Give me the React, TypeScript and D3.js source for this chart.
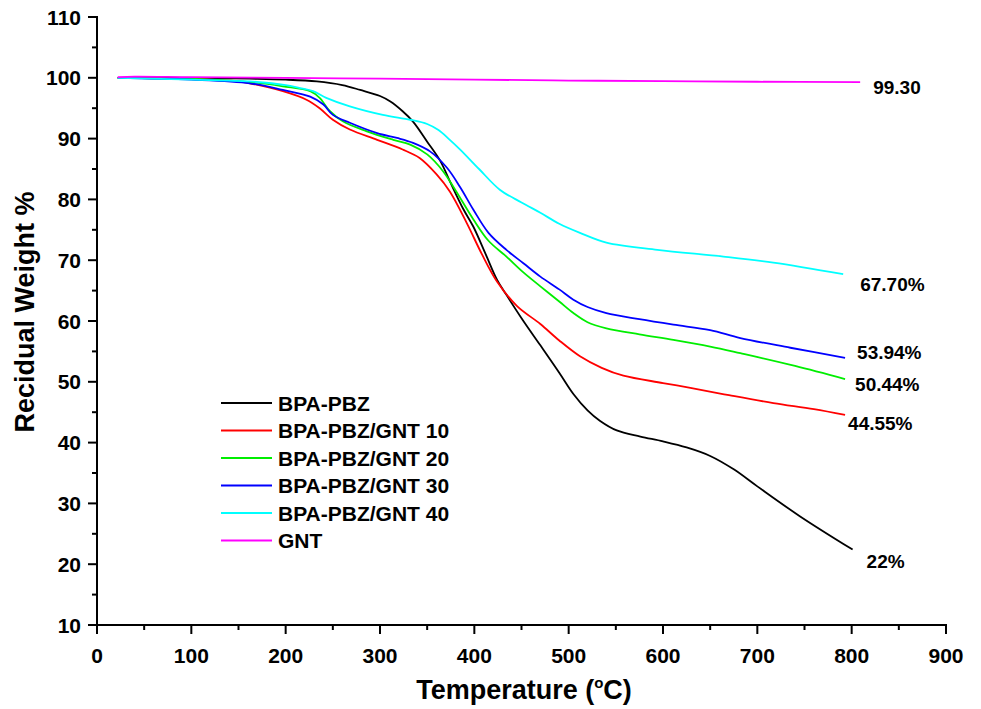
import React from "react";
import * as d3 from "d3";

const seriesNames = ["BPA-PBZ", "BPA-PBZ/GNT 10", "BPA-PBZ/GNT 20", "BPA-PBZ/GNT 30", "BPA-PBZ/GNT 40", "GNT"];
const seriesColors = ["#000000", "#ff0000", "#00ee00", "#0000ff", "#00ffff", "#ff00ff"];
const endLabels = ["22%", "44.55%", "50.44%", "53.94%", "67.70%", "99.30"];

const bpaPbz: [number, number][] = [
  [22, 100], [100, 100], [162, 99.85], [200, 99.7], [233, 99.4], [260, 98.8], [279, 98.0], [300, 97.0],
  [311, 96.1], [324, 94.5], [335, 92.8], [350, 89.5], [364, 86.3], [374, 83.0], [388, 78.5], [399, 75.5],
  [412, 71.0], [424, 66.8], [434, 64.3], [452, 60.0], [470, 56.0], [490, 51.5], [505, 48.0], [520, 45.3],
  [533, 43.6], [551, 42.0], [576, 41.0], [600, 40.2], [625, 39.2], [650, 37.8], [675, 35.6], [700, 32.8],
  [745, 27.9], [801, 22.4],
];
const gnt10: [number, number][] = [
  [22, 100], [100, 99.8], [150, 99.4], [162, 99.1], [197, 97.8], [222, 96.4], [236, 95.0], [250, 93.1],
  [268, 91.5], [297, 89.8], [324, 88.2], [342, 86.8], [360, 84.1], [374, 81.3], [392, 76.1], [408, 71.0],
  [424, 66.5], [445, 62.5], [470, 59.5], [490, 56.8], [512, 54.2], [535, 52.3], [558, 51.0], [600, 49.8],
  [629, 49.0], [670, 47.8], [717, 46.5], [760, 45.5], [793, 44.55],
];
const gnt20: [number, number][] = [
  [22, 100], [100, 99.8], [162, 99.3], [197, 98.6], [226, 97.8], [236, 96.7], [247, 94.5], [261, 92.8],
  [286, 91.2], [314, 89.8], [332, 89.0], [350, 87.4], [367, 84.6], [380, 81.5], [399, 76.7], [415, 73.2],
  [434, 70.6], [452, 68.0], [470, 65.7], [490, 63.2], [505, 61.3], [520, 59.8], [540, 58.8], [575, 57.8],
  [611, 56.9], [650, 55.8], [682, 54.7], [740, 52.6], [793, 50.44],
];
const gnt30: [number, number][] = [
  [22, 100], [100, 99.7], [162, 99.1], [197, 98.0], [226, 96.9], [240, 95.6], [250, 93.9], [268, 92.6],
  [297, 90.9], [318, 90.1], [335, 89.3], [353, 87.9], [371, 85.2], [385, 82.0], [399, 78.3], [415, 74.5],
  [434, 71.7], [452, 69.5], [470, 67.3], [490, 65.2], [505, 63.5], [520, 62.3], [540, 61.3], [575, 60.3],
  [611, 59.4], [650, 58.5], [682, 57.2], [735, 55.6], [793, 53.94],
];
const gnt40: [number, number][] = [
  [22, 100], [100, 99.7], [162, 99.4], [200, 98.8], [215, 98.3], [229, 97.8], [243, 96.7], [268, 95.3],
  [303, 93.9], [332, 93.1], [350, 92.4], [362, 91.4], [374, 89.8], [385, 88.2], [405, 85.0], [427, 81.6],
  [450, 79.5], [470, 77.8], [490, 76.0], [512, 74.5], [540, 72.9], [594, 71.7], [664, 70.6], [717, 69.6],
  [791, 67.7],
];
const gnt: [number, number][] = [
  [22, 100.1], [40, 100.2], [100, 100.1], [200, 100.0], [300, 99.85], [400, 99.7], [500, 99.55],
  [600, 99.45], [700, 99.35], [809, 99.3],
];

const allSeries = [bpaPbz, gnt10, gnt20, gnt30, gnt40, gnt];
const xTicks = [0, 100, 200, 300, 400, 500, 600, 700, 800, 900];
const yTicks = [10, 20, 30, 40, 50, 60, 70, 80, 90, 100, 110];

// label offsets (pixels) relative to series end point
const labelOffsets: [number, number][] = [[14, 12], [3, 9], [10, 5], [12, -5], [17, 10], [13, 5]];

const FONT = "'Liberation Sans', Arial, sans-serif";

export default function App() {
  const x = d3.scaleLinear().domain([0, 900]).range([97, 946]);
  const y = d3.scaleLinear().domain([10, 110]).range([625, 17]);
  const line = d3
    .line<[number, number]>()
    .x((d) => x(d[0]))
    .y((d) => y(d[1]))
    .curve(d3.curveCatmullRom.alpha(0.5));

  const xMinor = d3.range(50, 900, 100);
  const yMinor = d3.range(15, 110, 10);

  return (
    <svg
      width={981}
      height={709}
      style={{ position: "absolute", left: 0, top: 0, background: "#fff" }}
      fontFamily={FONT}
    >
      <rect width={981} height={709} fill="#fff" />
      {/* axes */}
      <g stroke="#000" strokeWidth={2} fill="none">
        <line x1={x(0)} x2={x(0)} y1={y(110) - 1} y2={y(10) + 1} />
        <line x1={x(0) - 1} x2={x(900) + 1} y1={y(10)} y2={y(10)} />
        {yTicks.map((t) => (
          <line key={"yt" + t} x1={x(0) - 9} x2={x(0)} y1={y(t)} y2={y(t)} />
        ))}
        {yMinor.map((t) => (
          <line key={"ym" + t} x1={x(0) - 5} x2={x(0)} y1={y(t)} y2={y(t)} />
        ))}
        {xTicks.map((t) => (
          <line key={"xt" + t} x1={x(t)} x2={x(t)} y1={y(10)} y2={y(10) + 9} />
        ))}
        {xMinor.map((t) => (
          <line key={"xm" + t} x1={x(t)} x2={x(t)} y1={y(10)} y2={y(10) + 5} />
        ))}
      </g>
      <g fontWeight="bold" fontSize={21} fill="#000">
        {yTicks.map((t) => (
          <text key={"yl" + t} x={x(0) - 16} y={y(t)} textAnchor="end" dominantBaseline="central">
            {t}
          </text>
        ))}
        {xTicks.map((t) => (
          <text key={"xl" + t} x={x(t)} y={y(10) + 38} textAnchor="middle">
            {t}
          </text>
        ))}
      </g>
      <text x={524} y={699} textAnchor="middle" fontWeight="bold" fontSize={27}>
        Temperature (<tspan dy={-11} fontSize={15}>o</tspan><tspan dy={11}>C)</tspan>
      </text>
      <text
        transform={`translate(34, ${312}) rotate(-90)`}
        textAnchor="middle"
        fontWeight="bold"
        fontSize={27}
      >
        Recidual Weight %
      </text>

      {/* curves */}
      <g fill="none" strokeWidth={1.8}>
        {allSeries.map((s, i) => (
          <path key={"s" + i} d={line(s) || ""} stroke={seriesColors[i]} />
        ))}
      </g>

      {/* end labels */}
      <g fontWeight="bold" fontSize={19} fill="#000">
        {allSeries.map((s, i) => {
          const last = s[s.length - 1];
          return (
            <text
              key={"el" + i}
              x={x(last[0]) + labelOffsets[i][0]}
              y={y(last[1]) + labelOffsets[i][1]}
              dominantBaseline="central"
            >
              {endLabels[i]}
            </text>
          );
        })}
      </g>

      {/* legend */}
      <g>
        {seriesNames.map((n, i) => (
          <g key={"lg" + i} transform={`translate(221, ${403 + i * 27.5})`}>
            <line x1={0} x2={51} y1={0} y2={0} stroke={seriesColors[i]} strokeWidth={2} />
            <text x={57} y={0} dominantBaseline="central" fontWeight="bold" fontSize={21}>
              {n}
            </text>
          </g>
        ))}
      </g>
    </svg>
  );
}
